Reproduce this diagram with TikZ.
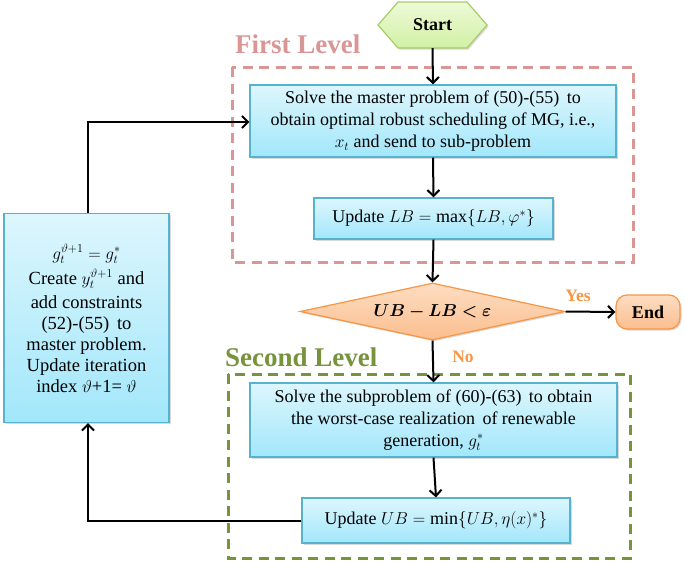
\documentclass[tikz,border=0pt]{standalone}
\usepackage{amsmath,bm}
\usepackage{fontspec}
\setmainfont{Liberation Serif}
\usetikzlibrary{shapes.geometric,arrows.meta,shadows,positioning}
\definecolor{cyTop}{HTML}{DDF6FD}
\definecolor{cyBot}{HTML}{A2E7FB}
\definecolor{cyLine}{HTML}{55B3D0}
\definecolor{orTop}{HTML}{FDDDC2}
\definecolor{orBot}{HTML}{FBBE8E}
\definecolor{orLine}{HTML}{F79646}
\definecolor{grTop}{HTML}{EDFAD6}
\definecolor{grBot}{HTML}{D2F0A6}
\definecolor{grLine}{HTML}{A6CC66}
\definecolor{pinkL}{HTML}{D99694}
\definecolor{oliveL}{HTML}{77933C}
\tikzset{
  cybox/.style={draw=cyLine, line width=1.2pt, top color=cyTop, bottom color=cyBot,
    align=center, inner sep=2pt, font=\fontsize{18}{22}\selectfont,
    drop shadow={shadow xshift=1.5pt, shadow yshift=-1.5pt, opacity=0.3}},
  conn/.style={line width=2pt, -{Straight Barb[length=6pt,width=12pt,line width=2pt]}},
  levelbox/.style={line width=3pt, dash pattern=on 10pt off 6.5pt},
  leveltxt/.style={font=\fontsize{27}{30}\selectfont\bfseries, anchor=base west, inner sep=0pt},
  lbl/.style={font=\fontsize{17.5}{20}\selectfont\bfseries, text=orLine, inner sep=0pt}
}
\begin{document}
\begin{tikzpicture}[x=1pt,y=-1pt]
\useasboundingbox (0,0) rectangle (685,562);
% level boxes
\draw[levelbox, draw=pinkL] (232,67) rectangle (633,262);
\node[leveltxt, text=pinkL] (lvl1) at (235,53) {First Level};
\draw[levelbox, draw=oliveL] (228,374) rectangle (630,558);
\node[leveltxt, text=oliveL] (lvl2) at (225,366) {Second Level};
% start hexagon
\shade[draw=grLine, line width=1.2pt, top color=grTop, bottom color=grBot,
  drop shadow={shadow xshift=1.5pt, shadow yshift=-1.5pt, opacity=0.3}]
  (378,25) -- (398,2) -- (467,2) -- (487,25) -- (467,48) -- (398,48) -- cycle;
\node[minimum width=109pt, minimum height=46pt, inner sep=0pt,
  font=\fontsize{18}{20}\selectfont\bfseries] (start) at (432.5,25) {Start};
% boxes
\node[cybox, minimum width=366pt, minimum height=72pt] (master) at (433,121)
  {Solve the master problem of (50)-(55)\, to\\obtain optimal robust scheduling of MG, i.e.,\\$x_t$ and send to sub-problem};
\node[cybox, minimum width=239pt, minimum height=41pt] (lb) at (433.5,218.5)
  {Update $LB=\max\{LB,\varphi^*\}$};
\node[diamond, draw=orLine, line width=1.2pt, top color=orTop, bottom color=orBot,
  minimum width=265pt, minimum height=57pt, aspect=4.65, inner sep=0pt,
  font=\fontsize{18}{20}\selectfont,
  drop shadow={shadow xshift=1.5pt, shadow yshift=-1.5pt, opacity=0.3}] (dec) at (432.5,311.5)
  {$\bm{UB-LB<\varepsilon}$};
\node[draw=orLine, line width=1.2pt, top color=orTop, bottom color=orBot, rounded corners=11pt,
  minimum width=64pt, minimum height=34pt, inner sep=0pt,
  font=\fontsize{18}{20}\selectfont\bfseries,
  drop shadow={shadow xshift=1.5pt, shadow yshift=-1.5pt, opacity=0.3}] (end) at (648,312) {End};
\node[cybox, minimum width=367pt, minimum height=74pt] (sub) at (433.5,420)
  {Solve the subproblem of (60)-(63)\, to obtain\\the worst-case realization\, of renewable\\generation, $g_t^*$};
\node[cybox, minimum width=268pt, minimum height=45pt] (ub) at (436,520.5)
  {Update $UB=\min\{UB,\eta(x)^*\}$};
\node[cybox, minimum width=165pt, minimum height=209pt, font=\fontsize{18.5}{21}\selectfont] (left) at (86.5,318)
  {$g_t^{\vartheta+1}=g_t^*$\\[4pt]Create $y_t^{\vartheta+1}$ and\\[3pt]add constraints\\(52)-(55)\, to\\master problem.\\Update iteration\\index $\vartheta$+1= $\vartheta$};
% connectors
\draw[conn] (start.south) -- (master.north);
\draw[conn] (master.south) -- (lb.north);
\draw[conn] (lb.south) -- (dec.north);
\draw[conn] (dec.east) -- (end.west);
\draw[conn] (dec.south) -- (sub.north);
\draw[conn] (sub.south) -- (ub.north);
\draw[conn] (ub.west) -- (88,520.5) -- (left.south -| 88,0);
\draw[conn] (left.north -| 88,0) -- (88,122) -- (master.west |- 0,122);
\node[lbl] (yes) at (578,296) {Yes};
\node[lbl] (no) at (463,357) {No};
\end{tikzpicture}
\end{document}
